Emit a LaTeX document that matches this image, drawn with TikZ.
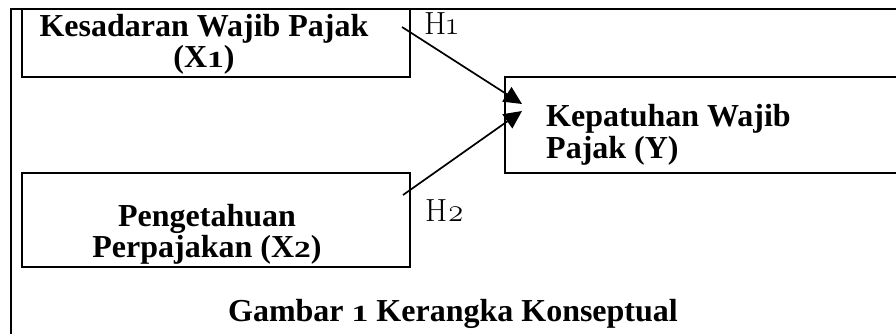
\documentclass[tikz,border=0pt]{standalone}
\usepackage{graphicx}
\usepackage{fontspec}
\setmainfont{Liberation Serif}
\newfontfamily\lmfont[Numbers=OldStyle]{Latin Modern Roman}
\newcommand{\osnb}[1]{\scalebox{1.05}[0.72]{#1}}
\usetikzlibrary{arrows.meta}
\begin{document}
\begin{tikzpicture}[x=1pt,y=-1pt,
  box/.style={draw,line width=1.4pt,rectangle,inner sep=0pt},
  lbl/.style={font=\bfseries\fontsize{32}{32}\selectfont,align=center,inner sep=0pt},
  hyp/.style={font=\lmfont\fontsize{32}{34}\selectfont,inner sep=0pt,anchor=base west},
  conn/.style={line width=1.7pt,-{Triangle[length=18pt,width=17pt]}}]
\useasboundingbox (0,0) rectangle (896,334);
% frame
\draw[line width=1.4pt] (11,340) -- (11,9) -- (905,9);
% boxes
\node[box,minimum width=388pt,minimum height=68pt] (x1) at (216,43) {};
\node[box,minimum width=400pt,minimum height=96pt] (y) at (705,125) {};
\node[box,minimum width=388pt,minimum height=94pt] (x2) at (216,220) {};
% texts
\node[lbl,anchor=base] (t1a) at (204,37) {Kesadaran Wajib Pajak};
\node[lbl,anchor=base] (t1b) at (204,68) {(X\osnb{1})};
\node[lbl,anchor=base west] (tya) at (546,127) {Kepatuhan Wajib};
\node[lbl,anchor=base west] (tyb) at (546,158) {Pajak (Y)};
\node[lbl,anchor=base] (t2a) at (207,226) {Pengetahuan};
\node[lbl,anchor=base] (t2b) at (207,257) {Perpajakan (X\osnb{2})};
\node[lbl,anchor=base] (cap) at (453,321) {Gambar \osnb{1} Kerangka Konseptual};
\node[hyp] (h1) at (424,35) {H1};
\node[hyp] (h2) at (425,221) {H2};
% connectors
\coordinate (s1) at (402,27);
\coordinate (s2) at (403,195);
\coordinate (e1) at (522,104);
\coordinate (e2) at (522,111);
\draw[conn] (s1) -- (e1);
\draw[conn] (s2) -- (e2);
\end{tikzpicture}
\end{document}
